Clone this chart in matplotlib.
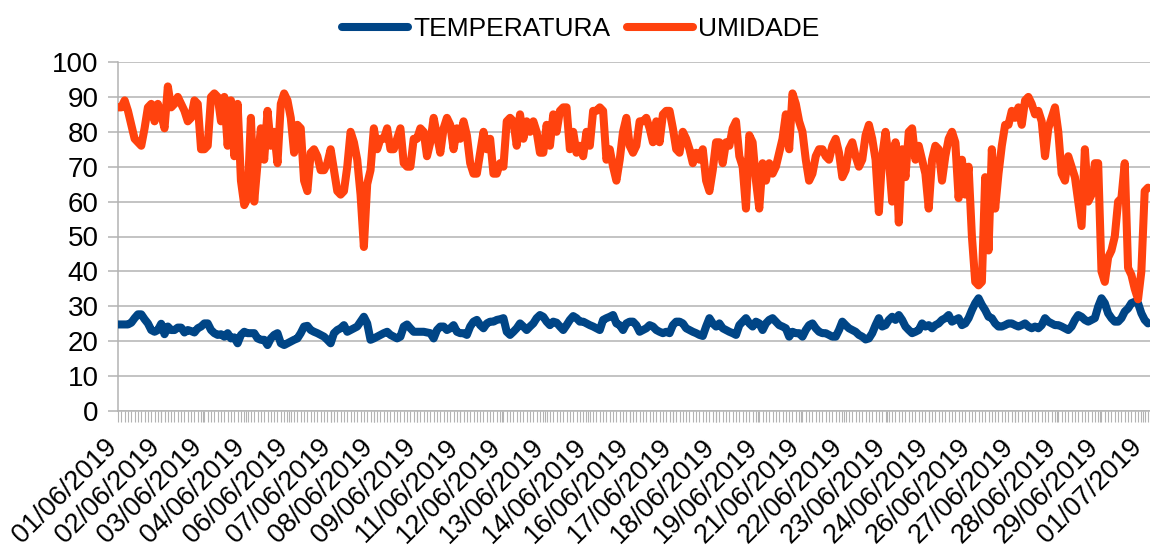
import numpy as np
import matplotlib
matplotlib.use("Agg")
import matplotlib.pyplot as plt
from matplotlib.ticker import FixedLocator
from matplotlib.transforms import ScaledTranslation

# dates shown on the x axis (one label every ~13 readings)
date_labels = ["01/06/2019", "02/06/2019", "03/06/2019", "04/06/2019", "06/06/2019",
               "07/06/2019", "08/06/2019", "09/06/2019", "11/06/2019", "12/06/2019",
               "13/06/2019", "14/06/2019", "16/06/2019", "17/06/2019", "18/06/2019",
               "19/06/2019", "21/06/2019", "22/06/2019", "23/06/2019", "24/06/2019",
               "26/06/2019", "27/06/2019", "28/06/2019", "29/06/2019", "01/07/2019"]
label_step = 12.85  # readings between two date labels

# UMIDADE readings (%)
umidade = [
    87, 87, 89, 86, 82, 78, 77, 76, 81, 87, 88, 83, 88, 85, 81, 93, 87, 88, 90, 88,
    86, 83, 84, 89, 88, 75, 75, 76, 90, 91, 90, 83, 90, 76, 89, 73, 88, 66, 59, 61,
    84, 60, 71, 81, 72, 86, 76, 80, 71, 88, 91, 89, 84, 74, 82, 81, 66, 63, 74, 75,
    73, 69, 69, 71, 75, 69, 63, 62, 63, 70, 80, 77, 72, 62, 47, 65, 69, 81, 75,
    78, 78, 81, 75, 75, 78, 81, 71, 70, 70, 78, 78, 81, 80, 73, 77, 84, 79, 74, 81,
    84, 82, 75, 81, 78, 83, 79, 71, 68, 68, 74, 80, 75, 78, 68, 68, 71, 70, 83,
    84, 83, 76, 85, 78, 83, 80, 83, 80, 74, 74, 82, 76, 85, 80, 86, 87, 87, 75, 80,
    74, 76, 73, 80, 76, 86, 86, 87, 86, 72, 75, 70, 66, 72, 80, 84, 76, 74, 76,
    83, 83, 84, 81, 77, 83, 77, 85, 86, 86, 81, 75, 74, 80, 78, 75, 71, 74, 72, 75,
    66, 63, 69, 77, 77, 71, 77, 76, 81, 83, 73, 70, 58, 79, 77, 66, 58, 71, 66,
    71, 68, 70, 74, 78, 85, 75, 91, 88, 83, 80, 72, 66, 68, 73, 75, 75, 73, 72, 76,
    78, 74, 67, 69, 75, 77, 73, 70, 72, 79, 82, 78, 72, 57, 73, 80, 72, 60, 77,
    54, 75, 67, 80, 81, 72, 76, 72, 68, 58, 72, 76, 75, 66, 73, 78, 80, 77, 61, 72,
    62, 70, 50, 37, 36, 37, 67, 46, 75, 58, 68, 76, 82, 82, 86, 84, 87, 82, 89,
    90, 88, 85, 86, 83, 73, 81, 84, 87, 80, 68, 66, 73, 70, 67, 60, 53, 75, 60, 62,
    71, 71, 40, 37, 44, 46, 50, 60, 61, 71, 41, 39, 35, 32, 40, 63, 64,
]

# TEMPERATURA readings (C)
temperatura = [
    24.8, 24.8, 24.8, 24.8, 25.3, 26.6, 27.7, 27.7, 26.3, 25.1,
    23.2, 22.7, 23.2, 25.0, 22.0, 24.2, 23.2, 23.2, 23.9, 23.9,
    22.5, 23.2, 22.9, 22.5, 23.7, 24.2, 25.1, 25.1, 23.2, 22.3,
    21.8, 22.0, 21.3, 22.3, 20.8, 21.1, 19.4, 21.8, 22.7, 22.3,
    22.3, 22.3, 20.8, 20.4, 20.4, 18.9, 20.8, 21.8, 22.3, 19.4,
    18.9, 19.4, 19.9, 20.4, 20.8, 22.3, 24.2, 24.4, 23.2, 22.7,
    22.3, 21.8, 21.3, 20.4, 19.4, 22.3, 23.2, 23.7, 24.6, 22.7,
    23.2, 23.7, 24.2, 25.6, 27.0, 25.1, 20.4, 20.8, 21.3, 21.8,
    22.3, 22.7, 21.8, 21.3, 20.8, 21.3, 24.2, 24.8, 23.7, 22.7,
    22.7, 22.7, 22.7, 22.5, 22.3, 20.8, 23.2, 24.2, 24.2, 23.2,
    23.7, 24.6, 22.7, 22.3,
    22.3, 21.8, 24.2, 25.6, 26.1, 24.6, 23.7, 25.1, 25.6, 25.6,
    26.1, 26.3, 26.6, 22.7, 21.8, 22.7, 23.7, 25.1, 24.2, 23.2,
    24.2, 25.1, 26.6, 27.5, 27.0, 25.6, 24.6, 25.6, 25.3, 24.2,
    23.2, 24.6, 26.1, 27.2, 26.6, 25.6, 25.6, 25.1, 24.6, 24.2,
    23.7, 23.2, 26.1, 26.6, 27.0, 27.5, 25.1, 24.6, 23.2, 25.1,
    25.6, 25.6, 24.6, 22.7, 23.2, 23.7, 24.6, 24.2, 23.2, 22.7,
    22.3, 22.7, 22.3, 24.6, 25.6, 25.6, 25.1, 23.7, 23.2, 22.7,
    22.3, 21.8, 21.5, 24.2, 26.6, 25.1, 24.2, 25.1, 23.7, 23.2,
    22.7, 22.3, 21.8, 24.6, 25.6, 26.6, 25.1, 24.2, 25.6, 25.1,
    23.2, 25.1, 26.1, 26.6, 25.6, 24.6, 24.2, 23.7, 21.3, 22.7,
    22.3, 22.3,
    21.3, 23.2, 24.6, 25.1, 23.7, 22.7, 22.3, 22.3, 21.8, 21.3,
    21.3, 23.2, 25.6, 24.6, 23.7, 23.2, 22.7, 21.8, 21.3, 20.5,
    20.8, 22.3, 24.6, 26.6, 24.2, 24.6, 26.1, 27.0, 26.1, 27.5,
    26.1, 24.2, 23.2, 22.3, 22.7, 23.2, 25.1, 24.2, 24.6, 23.7,
    24.6, 25.1, 26.1, 26.6, 27.5, 25.6, 26.1, 26.6, 24.6, 25.1,
    26.6, 28.9, 30.9, 32.3, 30.4, 28.9, 27.0, 26.6, 25.1, 24.2,
    24.2, 24.6, 25.1, 25.1, 24.6, 24.2, 24.6, 25.1, 24.2, 23.7,
    24.2, 23.7, 24.6, 26.6, 25.6, 25.1, 24.6, 24.6, 24.2, 23.7,
    23.2, 24.2, 26.1, 27.5, 27.0, 26.1, 25.6, 26.1, 26.6, 29.9,
    32.3, 30.9, 28.0, 26.6, 25.6, 25.6, 26.6, 28.5, 29.4, 30.9,
    31.3, 30.9, 28.0, 26.1, 25.1,
]

BLUE = "#004586"
ORANGE = "#ff420e"
GRID = "#b3b3b3"


def main():
    plt.rcParams['font.family'] = ['Liberation Sans', 'DejaVu Sans']
    fig = plt.figure(figsize=(11.5, 5.47), dpi=100)
    ax = fig.add_axes([118 / 1150, 1 - 411 / 547, 1 - 118 / 1150, (411 - 62) / 547])

    n = len(temperatura)
    xs_t = np.arange(len(temperatura))
    xs_u = np.arange(len(umidade))

    ax.plot(xs_t, temperatura, color=BLUE, lw=5.8, label="TEMPERATURA",
            solid_joinstyle="round", solid_capstyle="round", zorder=3)
    ax.plot(xs_u, umidade, color=ORANGE, lw=5.8, label="UMIDADE",
            solid_joinstyle="round", solid_capstyle="round", zorder=4)

    ax.set_ylim(0, 100)
    ax.set_xlim(0, n - 1 + 0.6)
    ax.set_yticks(np.arange(0, 101, 10))
    ax.yaxis.grid(True, color=GRID, lw=1.1)
    ax.set_axisbelow(True)

    # one small tick per reading, date labels every few readings
    ax.xaxis.set_minor_locator(FixedLocator(np.arange(n)))
    label_pos = np.arange(len(date_labels)) * label_step
    ax.set_xticks(label_pos)
    ax.set_xticklabels(date_labels, rotation=45, ha="right", va="baseline",
                       rotation_mode="anchor")
    shift = ScaledTranslation(2 / 72, 0, fig.dpi_scale_trans)
    for lbl in ax.get_xticklabels():
        lbl.set_transform(lbl.get_transform() + shift)

    ax.tick_params(axis="x", which="both", length=8, width=0.8, color=GRID,
                   labelsize=19.5, pad=18.5)
    ax.tick_params(axis="y", length=7, width=1.1, color=GRID, labelsize=20, pad=7)

    for side in ["top", "right"]:
        ax.spines[side].set_visible(False)
    for side in ["left", "bottom"]:
        ax.spines[side].set_color(GRID)
        ax.spines[side].set_linewidth(1.1)

    fig.legend(loc="upper center", bbox_to_anchor=(0.505, 1.012), ncol=2, frameon=False,
               fontsize=19, handlelength=2.5, handletextpad=0.2, columnspacing=0.6)

    fig.savefig("out.png", dpi=100)


if __name__ == "__main__":
    main()
